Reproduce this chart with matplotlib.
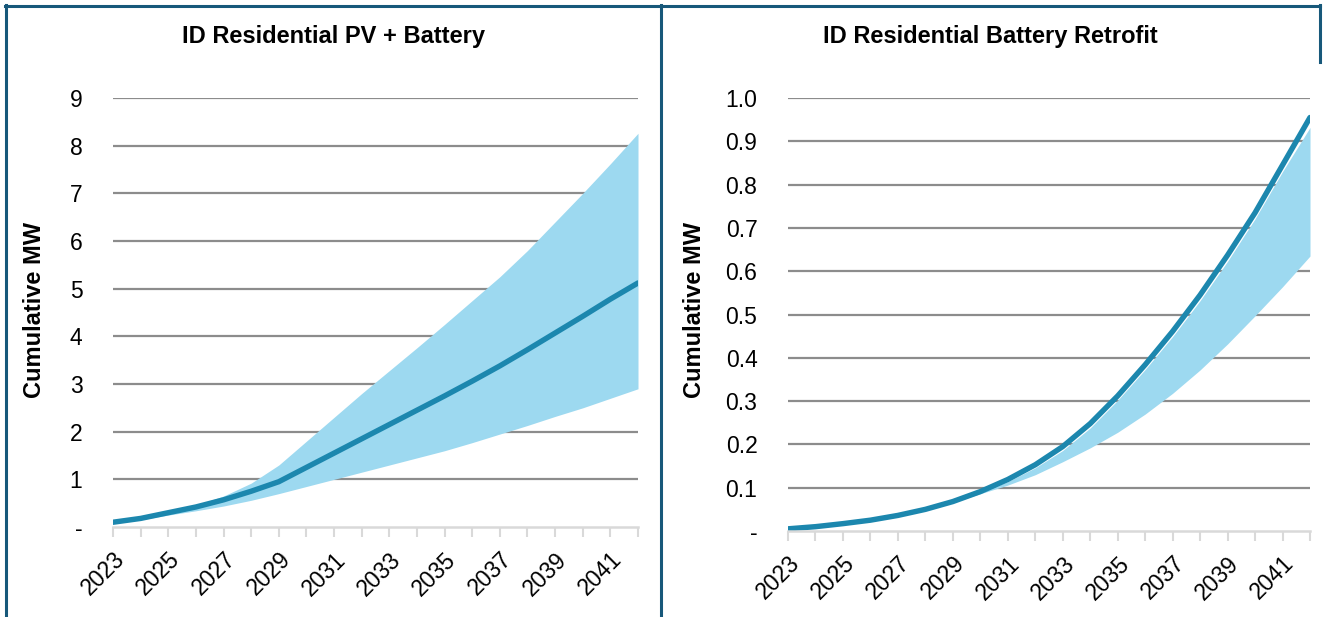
import matplotlib
matplotlib.use("Agg")
import matplotlib.pyplot as plt
from matplotlib.lines import Line2D

years = list(range(2023, 2043))

# ID Residential PV + Battery (cumulative MW)
pv_base = [0.10, 0.18, 0.30, 0.42, 0.57, 0.75, 0.95, 1.25, 1.55, 1.85,
           2.15, 2.45, 2.75, 3.06, 3.38, 3.72, 4.07, 4.42, 4.78, 5.12]
pv_high = [0.10, 0.20, 0.32, 0.46, 0.65, 0.92, 1.30, 1.80, 2.30, 2.80,
           3.28, 3.76, 4.25, 4.75, 5.25, 5.80, 6.40, 7.00, 7.62, 8.26]
pv_low = [0.08, 0.15, 0.25, 0.34, 0.44, 0.56, 0.70, 0.85, 1.00, 1.15,
          1.30, 1.45, 1.60, 1.77, 1.95, 2.13, 2.32, 2.50, 2.70, 2.90]

# ID Residential Battery Retrofit (cumulative MW)
rt_base = [0.005, 0.010, 0.017, 0.025, 0.036, 0.050, 0.068, 0.091, 0.119, 0.153,
           0.195, 0.248, 0.312, 0.384, 0.461, 0.545, 0.637, 0.735, 0.845, 0.955]
rt_high = [0.005, 0.010, 0.017, 0.025, 0.036, 0.049, 0.066, 0.088, 0.114, 0.146,
           0.186, 0.238, 0.302, 0.373, 0.449, 0.532, 0.623, 0.721, 0.830, 0.932]
rt_low = [0.005, 0.010, 0.017, 0.025, 0.036, 0.049, 0.066, 0.086, 0.106, 0.130,
          0.160, 0.192, 0.228, 0.270, 0.318, 0.372, 0.432, 0.497, 0.564, 0.635]

pv_ticks = [0, 1, 2, 3, 4, 5, 6, 7, 8, 9]
pv_labels = ["-", "1", "2", "3", "4", "5", "6", "7", "8", "9"]
rt_ticks = [0, 0.1, 0.2, 0.3, 0.4, 0.5, 0.6, 0.7, 0.8, 0.9, 1.0]
rt_labels = ["-", "0.1", "0.2", "0.3", "0.4", "0.5", "0.6", "0.7", "0.8", "0.9", "1.0"]

plt.rcParams["font.family"] = ["Liberation Sans", "DejaVu Sans"]

LINE = "#1c87ae"
BAND = "#9dd9f0"
GRID = "#8c8c8c"
AXIS = "#d9d9d9"
FRAME = "#17587a"

fig = plt.figure(figsize=(13.43, 6.17), dpi=100)
W, H = 1343, 617


def panel(rect, base, low, high, ticks, labels, ylabel_x):
    ax = fig.add_axes(rect)
    ax.fill_between(years, low, high, color=BAND, linewidth=0, zorder=2)
    ax.plot(years, base, color=LINE, linewidth=3.9, solid_capstyle="round", zorder=4)
    ax.hlines(ticks[1:], years[0], years[-1], color=GRID, linewidth=1.6, zorder=1)
    ax.set_xlim(years[0], years[-1])
    ax.set_ylim(ticks[0], ticks[-1])
    ax.set_yticks(ticks)
    ax.set_yticklabels(labels, fontsize=16.5)
    ax.tick_params(axis="y", length=0, pad=22)
    ax.set_xticks(years)
    ax.set_xticklabels([str(y) if (y - 2023) % 2 == 0 else "" for y in years],
                       rotation=45, ha="right", rotation_mode="anchor", fontsize=16.5)
    ax.tick_params(axis="x", length=7, width=1.5, color=AXIS, pad=8)
    for s in ["top", "right", "left"]:
        ax.spines[s].set_visible(False)
    ax.spines["bottom"].set_color(AXIS)
    ax.spines["bottom"].set_linewidth(1.8)
    ax.spines["bottom"].set_zorder(5)
    ax.set_clip_on(False)
    fig.text(ylabel_x / W, 1 - 310 / H, "Cumulative MW", rotation=90, fontsize=17,
             fontweight="bold", ha="center", va="center")
    return ax


panel([113 / W, 1 - 527 / H, (638 - 113) / W, (527 - 98) / H],
      pv_base, pv_low, pv_high, pv_ticks, pv_labels, 35)
panel([788 / W, 1 - 531 / H, (1310 - 788) / W, (531 - 98) / H],
      rt_base, rt_low, rt_high, rt_ticks, rt_labels, 694)

fig.text(333 / W, 1 - 37 / H, "ID Residential PV + Battery", fontsize=17,
         fontweight="bold", ha="center", va="center")
fig.text(990 / W, 1 - 37 / H, "ID Residential Battery Retrofit", fontsize=17,
         fontweight="bold", ha="center", va="center")

# panel frame
for xs, ys in [((5, 1320), (5.5, 5.5)), ((5.5, 5.5), (5, 617)),
               ((661, 661), (5, 617)), ((1320, 1320), (5, 62))]:
    fig.add_artist(Line2D([x / W for x in xs], [1 - y / H for y in ys],
                          color=FRAME, linewidth=2.2))

fig.savefig("out.png", dpi=100)
